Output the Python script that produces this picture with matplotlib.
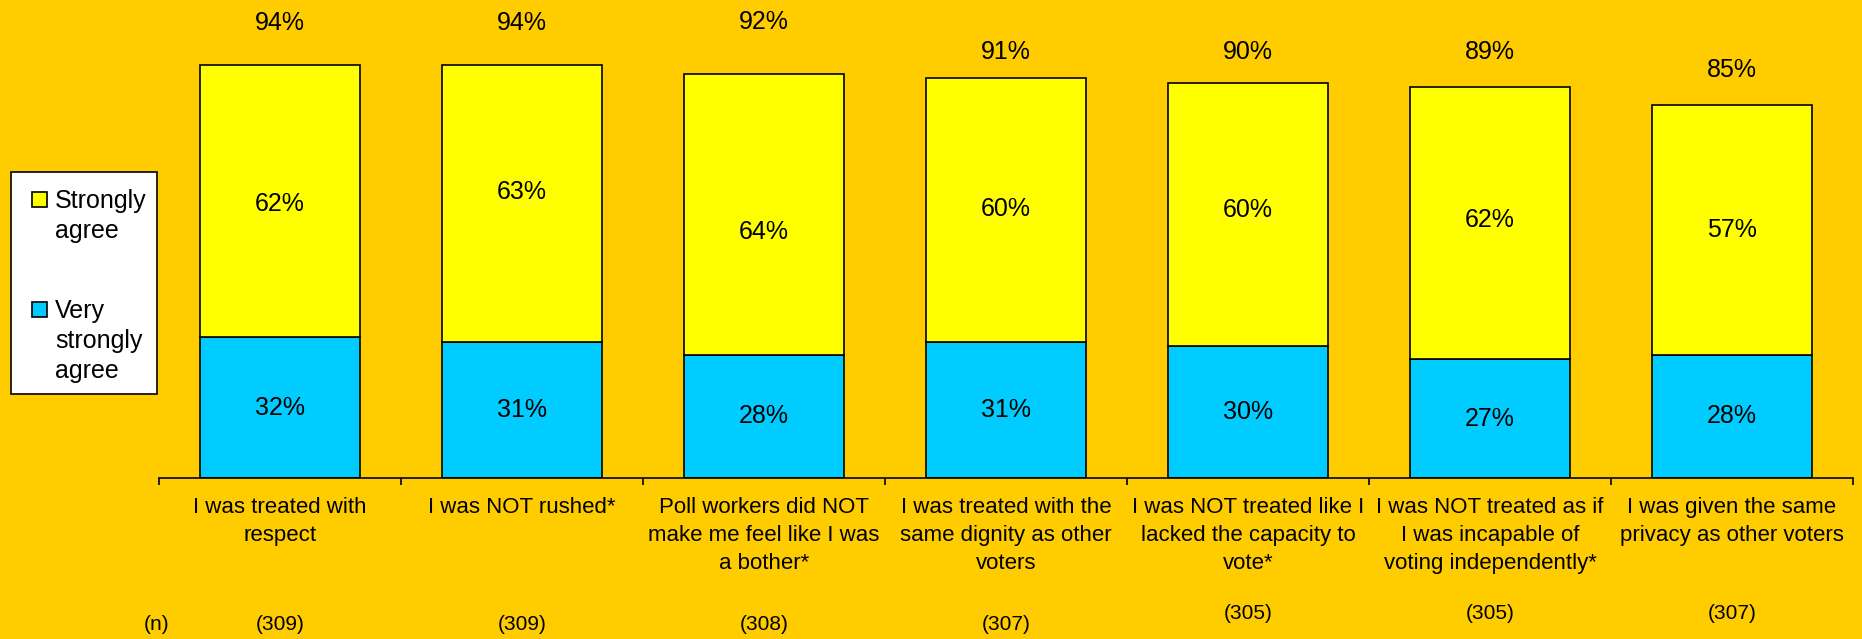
import matplotlib
matplotlib.use("Agg")
import matplotlib.pyplot as plt
import matplotlib.transforms as mtransforms
from matplotlib.patches import Rectangle

plt.rcParams["font.family"] = ["Liberation Sans", "DejaVu Sans"]

# Data
categories = [
    "I was treated with\nrespect",
    "I was NOT rushed*",
    "Poll workers did NOT\nmake me feel like I was\na bother*",
    "I was treated with the\nsame dignity as other\nvoters",
    "I was NOT treated like I\nlacked the capacity to\nvote*",
    "I was NOT treated as if\nI was incapable of\nvoting independently*",
    "I was given the same\nprivacy as other voters",
]
very_strongly = [32, 31, 28, 31, 30, 27, 28]
strongly = [62, 63, 64, 60, 60, 62, 57]
totals = [94, 94, 92, 91, 90, 89, 85]
n_labels = ["(309)", "(309)", "(308)", "(307)", "(305)", "(305)", "(307)"]

# label placement (data units / figure fraction), as in the original slide
total_label_y = [103.5, 103.5, 103.7, 97.0, 97.0, 97.0, 92.9]
strong_label_y = [62.4, 65.1, 56.0, 61.2, 61.0, 58.7, 56.4]
n_label_y = [0.023, 0.023, 0.023, 0.023, 0.040, 0.040, 0.040]

BG = "#FFCC00"
YELLOW = "#FFFF00"
BLUE = "#00CCFF"

fig = plt.figure(figsize=(18.62, 6.39), dpi=100, facecolor=BG)
ax = fig.add_axes([159 / 1862, 1 - 478 / 639, 1694 / 1862, 439.4 / 639])
ax.set_facecolor(BG)

x = list(range(len(categories)))
ax.bar(x, very_strongly, width=0.665, color=BLUE, edgecolor="black", linewidth=1.2)
ax.bar(x, strongly, width=0.665, bottom=very_strongly, color=YELLOW,
       edgecolor="black", linewidth=1.2)

ax.set_xlim(-0.5, len(categories) - 0.5)
ax.set_ylim(0, 100)

for i in x:
    ax.text(i, very_strongly[i] / 2, f"{very_strongly[i]}%", ha="center",
            va="center", fontsize=18)
    ax.text(i, strong_label_y[i], f"{strongly[i]}%", ha="center",
            va="center", fontsize=18)
    ax.text(i, total_label_y[i], f"{totals[i]}%", ha="center",
            va="center", fontsize=18, clip_on=False)

# axis styling
for side in ["left", "right", "top"]:
    ax.spines[side].set_visible(False)
ax.spines["bottom"].set_linewidth(1.2)
ax.set_yticks([])
ax.set_xticks(x)
ax.set_xticklabels(categories, fontsize=16)
ax.set_xticks([i - 0.5 for i in range(len(categories) + 1)], minor=True)
ax.tick_params(axis="x", which="major", length=0, pad=14)
ax.tick_params(axis="x", which="minor", length=5, width=1.2, direction="out")
for lbl in ax.get_xticklabels():
    lbl.set_linespacing(1.42)

# sample sizes
trans = mtransforms.blended_transform_factory(ax.transData, fig.transFigure)
ax.text(-0.51, n_label_y[0], "(n)", transform=trans, ha="center", va="center",
        fontsize=15)
for i, lab in enumerate(n_labels):
    ax.text(i, n_label_y[i], lab, transform=trans, ha="center", va="center",
            fontsize=15)

# legend box drawn by hand, to match the slide layout
W, H = 1862, 639
fig.add_artist(Rectangle((11 / W, 1 - 394 / H), 146 / W, 222 / H,
                         transform=fig.transFigure, facecolor="white",
                         edgecolor="black", linewidth=1.2))
legend_items = [("Strongly\nagree", YELLOW, 192, 216),
                ("Very\nstrongly\nagree", BLUE, 302, 341)]
for text, color, sq_top, text_mid in legend_items:
    fig.add_artist(Rectangle((32 / W, 1 - (sq_top + 15) / H), 15 / W, 15 / H,
                             transform=fig.transFigure, facecolor=color,
                             edgecolor="black", linewidth=1.2))
    fig.text(55 / W, 1 - text_mid / H, text, ha="left", va="center",
             fontsize=18, linespacing=1.3)

fig.savefig("out.png", dpi=100, facecolor=BG)
